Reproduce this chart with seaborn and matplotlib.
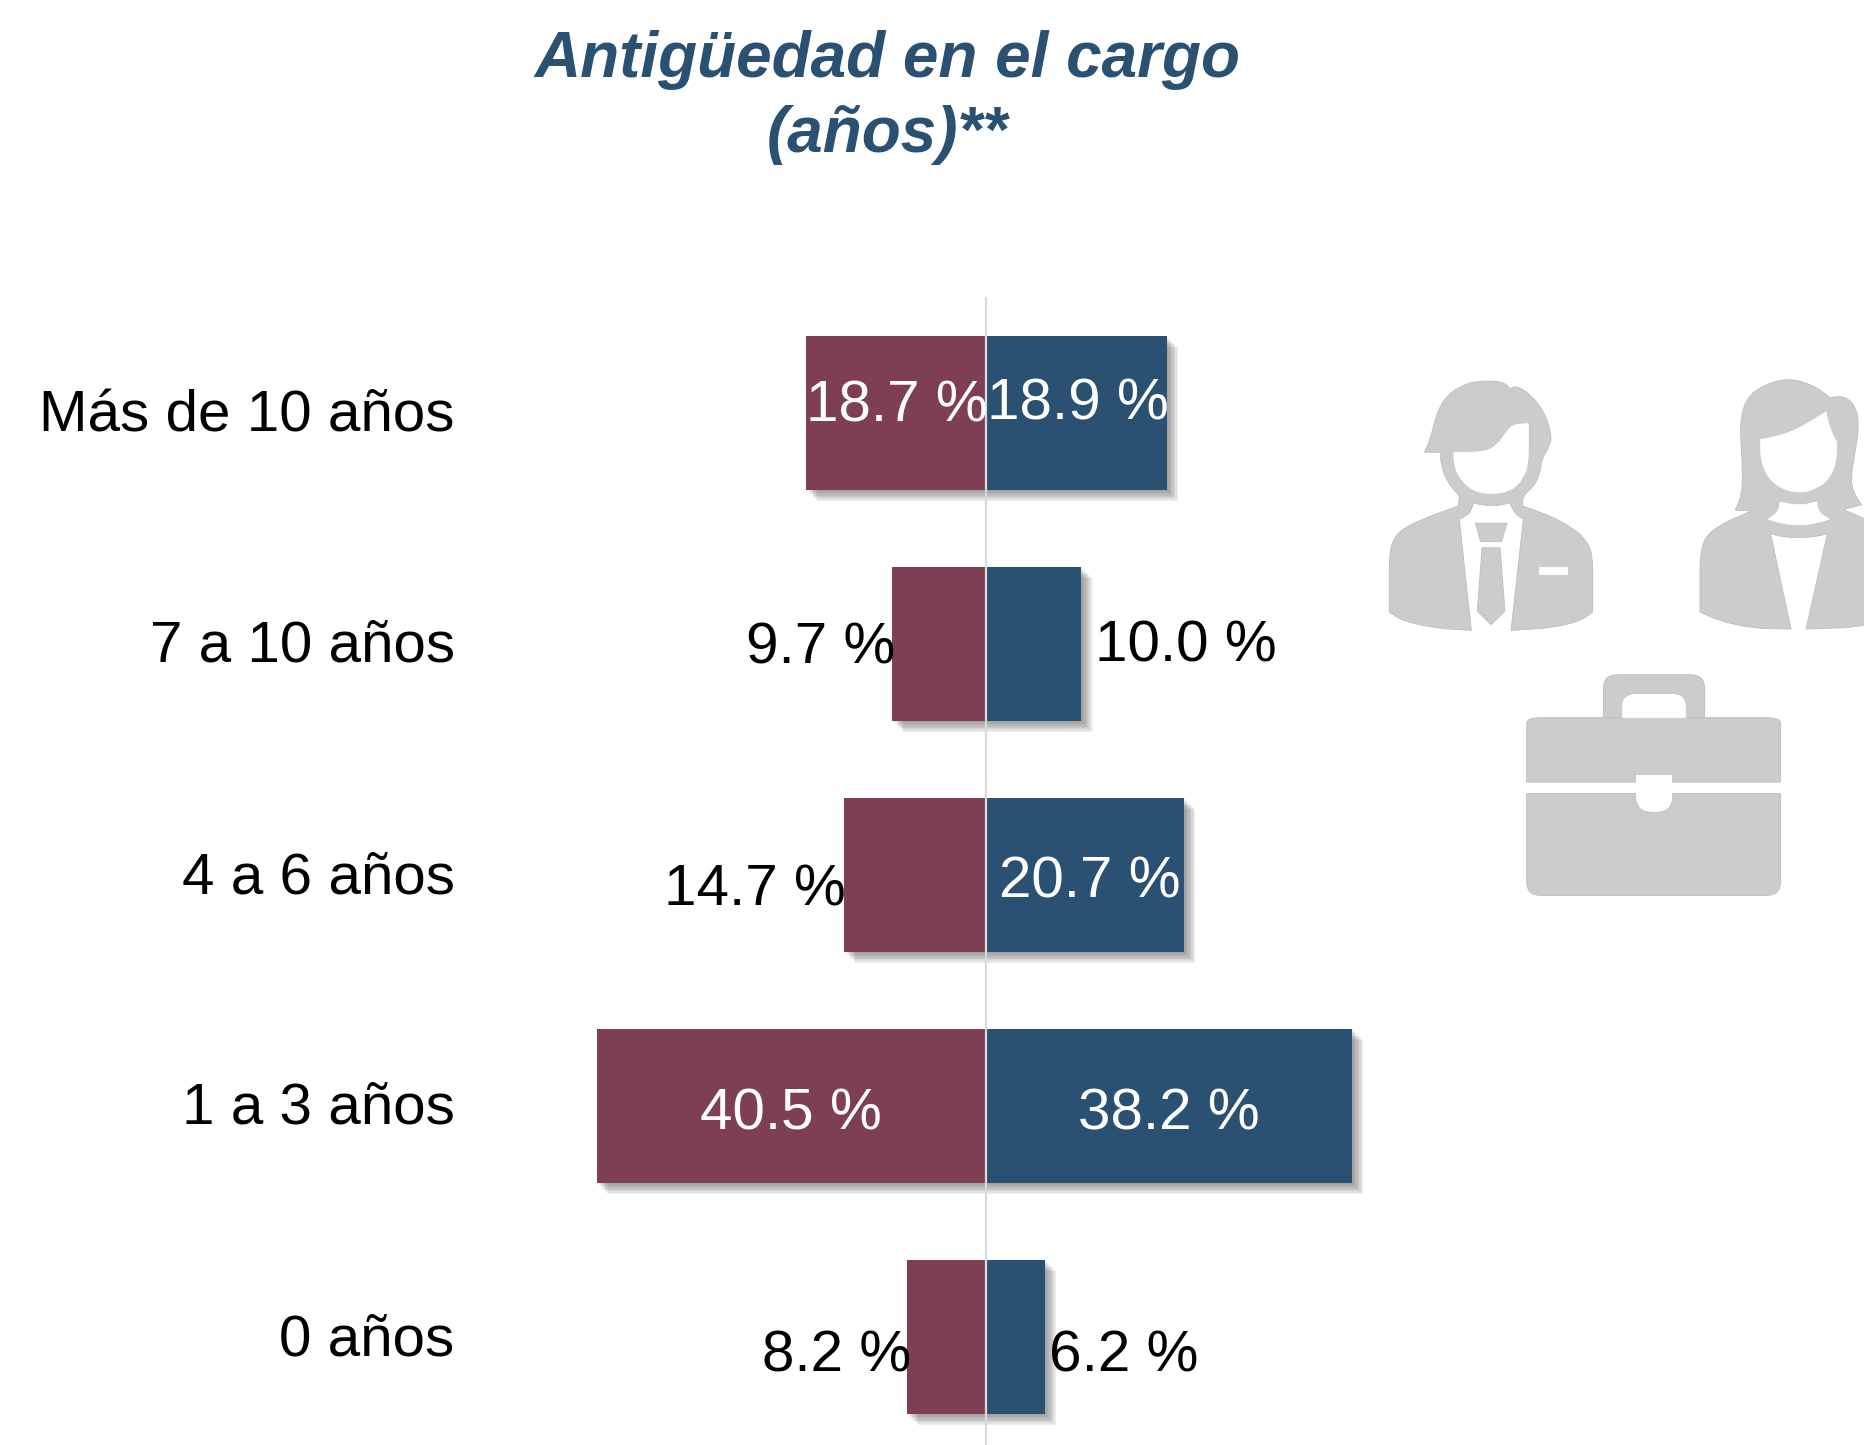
import matplotlib
matplotlib.use('Agg')
import matplotlib.pyplot as plt
import matplotlib.patheffects as pe
from matplotlib.patches import PathPatch
from matplotlib.path import Path
from matplotlib.transforms import ScaledTranslation
import numpy as np
import pandas as pd
import seaborn as sns

categories = ['Más de 10 años', '7 a 10 años', '4 a 6 años', '1 a 3 años', '0 años']
left_values = [18.7, 9.7, 14.7, 40.5, 8.2]
right_values = [18.9, 10.0, 20.7, 38.2, 6.2]
title = 'Antigüedad en el cargo\n(años)**'

WINE = '#7F3F52'
BLUE = '#2A5072'
ICON = '#CCCCCC'
W, H = 1865, 1445
ZERO_PX = 985.5
PX_PER_UNIT = 9.6
AX_LEFT = 470

# label placement, pixels from the bar's centre on the zero line (dx, dy up), colour
left_labels = [(-89, -9, 'white'), (-165, -20, 'black'), (-231, -30, 'black'), (-195, -23, 'white'), (-149, -35, 'black')]
right_labels = [(92, -6, 'white'), (200, -17, 'black'), (104, -23, 'white'), (183, -23, 'white'), (138, -35, 'black')]

# icon outlines, in the coordinates of a crop of the icon area; a third item marks a sharp corner
man = [(163, 258, 0), (180, 225), (195, 165), (220, 110), (265, 75), (320, 58), (400, 60), (420, 80, 0), (440, 72),
       (480, 95), (520, 140), (545, 205), (540, 240), (515, 275), (510, 320), (490, 355), (458, 380), (458, 408, 0),
       (540, 435), (610, 470), (650, 505), (668, 545), (668, 705, 0), (630, 730), (550, 748), (423, 756, 0), (460, 445, 0),
       (435, 430), (420, 400, 0), (365, 410), (310, 400, 0), (300, 430), (268, 445, 0), (304, 756, 0), (200, 750),
       (100, 730), (58, 705, 0), (58, 540), (70, 500), (100, 470), (170, 440), (265, 408, 0), (268, 380, 0), (230, 340),
       (212, 290), (212, 258, 0)]
man_face = [(252, 258, 0), (340, 258), (380, 240), (410, 200), (430, 180), (475, 178, 0), (475, 290), (460, 330),
            (425, 365), (365, 376), (305, 365), (265, 325), (252, 290)]
man_tie_knot = [(316, 456, 0), (411, 456, 0), (395, 508, 0), (332, 508, 0)]
man_tie = [(336, 525, 0), (390, 525, 0), (405, 702, 0), (363, 740, 0), (322, 702, 0)]
man_pocket = [(507, 580, 0), (591, 580, 0), (591, 597, 0), (507, 597, 0)]

woman = [(1095, 420, 0), (1115, 380), (1118, 320), (1110, 170), (1130, 105), (1180, 70), (1255, 50), (1330, 70),
         (1380, 105, 0), (1420, 100), (1455, 125), (1468, 180), (1455, 260), (1442, 330), (1450, 370), (1475, 405, 0),
         (1420, 418, 0), (1500, 450), (1560, 490), (1584, 545), (1584, 705, 0), (1540, 730), (1450, 748), (1308, 752, 0),
         (1372, 486, 0), (1330, 495), (1287, 497), (1240, 495), (1202, 486, 0), (1263, 752, 0), (1150, 750), (1050, 730),
         (990, 705, 0), (990, 545), (1005, 495), (1050, 460), (1145, 422, 0)]
woman_face = [(1172, 222, 0), (1240, 210), (1300, 185), (1368, 145, 0), (1378, 190), (1400, 230, 0), (1400, 280),
              (1380, 330), (1340, 360), (1287, 372), (1235, 360), (1195, 330), (1172, 280)]
woman_neck = [(1230, 397, 0), (1287, 408), (1340, 397, 0), (1345, 425), (1378, 445, 0), (1330, 458), (1287, 462),
              (1240, 458), (1195, 445, 0), (1225, 425)]

case_top = [(470, 1030), (470, 1000), (1232, 1000), (1232, 1030), (1232, 1180, 0), (908, 1180, 0), (908, 1158, 0),
            (796, 1158, 0), (796, 1180, 0), (470, 1180, 0)]
case_bottom = [(470, 1212, 0), (797, 1212, 0), (797, 1240), (820, 1265), (885, 1265), (908, 1240), (908, 1212, 0),
               (1232, 1212, 0), (1232, 1497), (470, 1497)]
case_handle = [(700, 1000, 0), (700, 880), (1004, 880), (1004, 1000, 0)]
case_handle_hole = [(758, 1000, 0), (758, 935), (946, 935), (946, 1000, 0)]


def to_px(points):
	# crop coordinates back to figure pixels
	return [(1370 + p[0] / 3, 360 + p[1] * 0.3577) + tuple(p[2:]) for p in points]


def rounded_path(points, radius=14):
	points = to_px(points)
	verts, codes = [], []
	n = len(points)
	for i, p in enumerate(points):
		cur = np.array(p[:2])
		if len(p) == 3:
			verts.append(cur)
			codes.append(Path.LINETO)
			continue
		prev = np.array(points[i - 1][:2])
		nxt = np.array(points[(i + 1) % n][:2])
		r1 = min(radius, np.linalg.norm(prev - cur) / 2)
		r2 = min(radius, np.linalg.norm(nxt - cur) / 2)
		a = cur + (prev - cur) / np.linalg.norm(prev - cur) * r1
		b = cur + (nxt - cur) / np.linalg.norm(nxt - cur) * r2
		verts += [a, cur, b]
		codes += [Path.LINETO, Path.CURVE3, Path.CURVE3]
	codes[0] = Path.MOVETO
	verts.append(verts[0])
	codes.append(Path.CLOSEPOLY)
	return Path(np.array(verts), codes)


def add_icon(ax, points, color=ICON):
	edge = '#BEBEBE' if color == ICON else 'white'
	ax.add_patch(PathPatch(rounded_path(points), facecolor=color, edgecolor=edge, linewidth=0.6))


def main():
	sns.set_theme(style='white')
	plt.rcParams['font.family'] = ['Liberation Sans', 'DejaVu Sans']

	df = pd.DataFrame({
		'categoria': categories * 2,
		'valor': [-v for v in left_values] + right_values,
		'lado': ['izquierda'] * len(categories) + ['derecha'] * len(categories),
	})

	fig = plt.figure(figsize=(W / 100, H / 100), dpi=100)
	ax = fig.add_axes([AX_LEFT / W, 0, 1 - AX_LEFT / W, 1])
	sns.barplot(data=df, y='categoria', x='valor', hue='lado', order=categories,
		palette={'izquierda': WINE, 'derecha': BLUE}, dodge=False, width=0.667,
		saturation=1, legend=False, ax=ax)

	shadow = [pe.SimplePatchShadow(offset=(o, -o), shadow_rgbFace='#555555', alpha=0.09) for o in (8, 7, 6, 5, 4, 3, 2, 1)]
	for bar in ax.patches:
		bar.set_linewidth(0)
		bar.set_path_effects(shadow + [pe.Normal()])

	ax.set_xlim((AX_LEFT - ZERO_PX) / PX_PER_UNIT, (W - ZERO_PX) / PX_PER_UNIT)
	ax.set_ylim((H - 413) / 231, -413 / 231)
	# the line sits a hair right of the bars' common edge
	ax.axvline(0.05, ymin=0, ymax=1 - 298 / H, color='#D9D9D9', linewidth=1.6, zorder=5)

	ax.set_xlabel('')
	ax.set_ylabel('')
	ax.set_xticks([])
	ax.tick_params(axis='y', length=0, pad=11, labelsize=42, labelcolor='black')
	down = ScaledTranslation(0, -18 / 100, fig.dpi_scale_trans)
	for lab in ax.get_yticklabels():
		lab.set_verticalalignment('baseline')
		lab.set_transform(lab.get_transform() + down)
	sns.despine(ax=ax, left=True, bottom=True)
	ax.patch.set_alpha(0)

	for i, (vl, vr) in enumerate(zip(left_values, right_values)):
		for v, (dx, dy, col) in ((vl, left_labels[i]), (vr, right_labels[i])):
			ax.annotate(f'{v:.1f} %', xy=(0, i), xytext=(dx, dy), textcoords='offset pixels',
				ha='center', va='baseline', fontsize=42, color=col, zorder=6)

	fig.text(887 / W, 1 - 30 / H, title, ha='center', va='top', color=BLUE, fontsize=46,
		fontweight='bold', fontstyle='italic', linespacing=1.32)

	# decorative icons on a pixel overlay
	over = fig.add_axes([0, 0, 1, 1])
	over.set_xlim(0, W)
	over.set_ylim(H, 0)
	over.axis('off')
	add_icon(over, man)
	add_icon(over, woman)
	add_icon(over, case_handle)
	add_icon(over, case_top)
	add_icon(over, case_bottom)
	add_icon(over, man_face, 'white')
	add_icon(over, woman_face, 'white')
	add_icon(over, woman_neck, 'white')
	add_icon(over, man_pocket, 'white')
	add_icon(over, case_handle_hole, 'white')
	# knot and tie sit on the white shirt opening
	add_icon(over, man_tie_knot)
	add_icon(over, man_tie)

	fig.savefig('out.png', dpi=100, facecolor='white')


if __name__ == '__main__':
	main()
